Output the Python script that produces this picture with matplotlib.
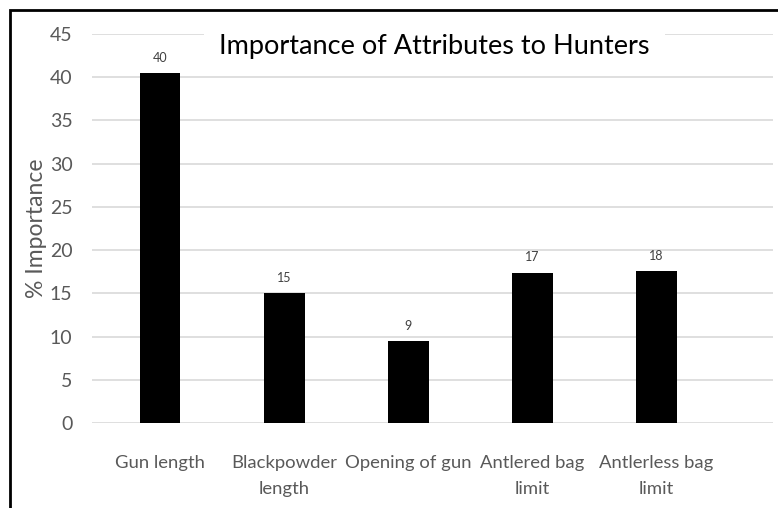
import matplotlib.pyplot as plt
import matplotlib.transforms as mtransforms
from matplotlib.patches import Rectangle

categories = ["Gun length", "Blackpowder\nlength", "Opening of gun", "Antlered bag\nlimit", "Antlerless bag\nlimit"]
importance = [40.45, 15.0, 9.45, 17.4, 17.55]
yticks = [0, 5, 10, 15, 20, 25, 30, 35, 40, 45]

plt.rcParams['font.family'] = ['Lato', 'DejaVu Sans']

fig = plt.figure(figsize=(7.78, 5.08), dpi=100)
ax = fig.add_axes([92/778, 1 - 423/508, (773 - 92)/778, (423 - 34)/508])

x = list(range(len(categories)))
bars = ax.bar(x, importance, width=0.33, color='black', zorder=3)

# data labels
for b, v in zip(bars, importance):
    ax.annotate(f"{v:.0f}", (b.get_x() + b.get_width()/2, v), xytext=(0, 7),
                textcoords='offset points', ha='center', va='bottom',
                fontsize=9, color='#404040', zorder=6)

ax.set_xlim(-0.548, 4.94)
ax.set_ylim(0, 45)
ax.set_yticks(yticks)
ax.set_xticks(x)
ax.set_xticklabels(categories, fontsize=13.3, color='#595959', linespacing=1.75)
ax.tick_params(axis='y', labelsize=14, labelcolor='#595959', length=0, pad=14)
ax.tick_params(axis='x', length=0, pad=23)
ax.grid(axis='y', color='#d9d9d9', lw=1.2, zorder=0)
for s in ax.spines.values():
    s.set_visible(False)

ax.set_ylabel("% Importance", fontsize=16.5, color='#595959')
ax.yaxis.set_label_coords(-0.066, 0.5)

trans = mtransforms.blended_transform_factory(ax.transAxes, ax.transData)
ax.text(0.503, 43.5, "Importance of Attributes to Hunters", transform=trans,
        fontsize=19.5, color='black', ha='center', va='center', zorder=5,
        bbox=dict(fc='white', ec='none', pad=11))

# outer border (cropped on right and bottom)
fig.patches.append(Rectangle((10/778, -0.1), 1.2, 1 - 10/508 + 0.1, transform=fig.transFigure,
                             fill=False, ec='black', lw=2))

fig.savefig("out.png", dpi=100)
